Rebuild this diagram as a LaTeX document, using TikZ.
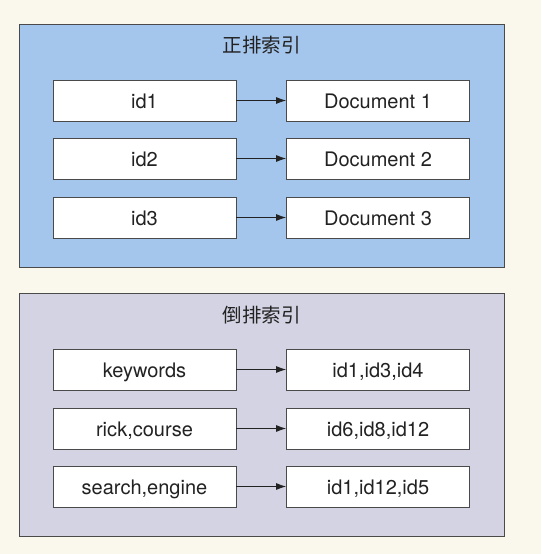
\documentclass[tikz,border=0pt]{standalone}
\usepackage{fontspec}
\setmainfont{TeX Gyre Heros}
\newfontfamily\cjk{Noto Sans CJK SC}
\usetikzlibrary{arrows.meta}

\definecolor{bgcream}{HTML}{FAF8EC}
\definecolor{fwdblue}{HTML}{A5C6EC}
\definecolor{invgray}{HTML}{D3D3E3}
\definecolor{edgegray}{HTML}{4A4A4A}
\definecolor{inkgray}{HTML}{222222}

\tikzset{
  panel/.style={draw=edgegray, line width=0.9pt, inner sep=0pt},
  paneltitle/.style={text=inkgray, font=\cjk\fontsize{19.5}{22}\selectfont},
  cell/.style={draw=edgegray, fill=white, line width=0.9pt, minimum width=183pt,
    minimum height=41pt, inner sep=0pt, text height=15.4pt, text depth=0pt,
    text=inkgray, font=\fontsize{20}{23}\selectfont},
  link/.style={-{Latex[length=10pt,width=7pt]}, line width=0.8pt, inkgray}
}

\begin{document}
\begin{tikzpicture}[x=1pt, y=-1pt]
        % Background
        \fill[bgcream] (0,0) rectangle (541,554);
        \useasboundingbox (0,0) rectangle (541,554);

        % Forward index
        \node[panel, fill=fwdblue, minimum width=485pt, minimum height=243pt] (fwd) at (261.5,145.5) {};
        \node[paneltitle] (fwdtitle) at (261.5,45) {正排索引};
        \foreach \k/\y/\a/\b in {1/100.5/id1/Document 1, 2/158.5/id2/Document 2, 3/217.5/id3/Document 3} {
          \node[cell] (fkey\k) at (144.5,\y) {\a};
          \node[cell] (fdoc\k) at (378,\y) {\b};
          \draw[link] (fkey\k) -- (fdoc\k);
        }

        % Inverted index
        \node[panel, fill=invgray, minimum width=485pt, minimum height=243pt] (inv) at (261.5,414.5) {};
        \node[paneltitle] (invtitle) at (261.5,315) {倒排索引};
        \foreach \k/\y/\a/\b in {1/369.5/keywords/{id1,id3,id4}, 2/428.5/{rick,course}/{id6,id8,id12}, 3/486.5/{search,engine}/{id1,id12,id5}} {
          \node[cell] (iword\k) at (144.5,\y) {\a};
          \node[cell] (iids\k) at (378,\y) {\b};
          \draw[link] (iword\k) -- (iids\k);
        }
\end{tikzpicture}
\end{document}
